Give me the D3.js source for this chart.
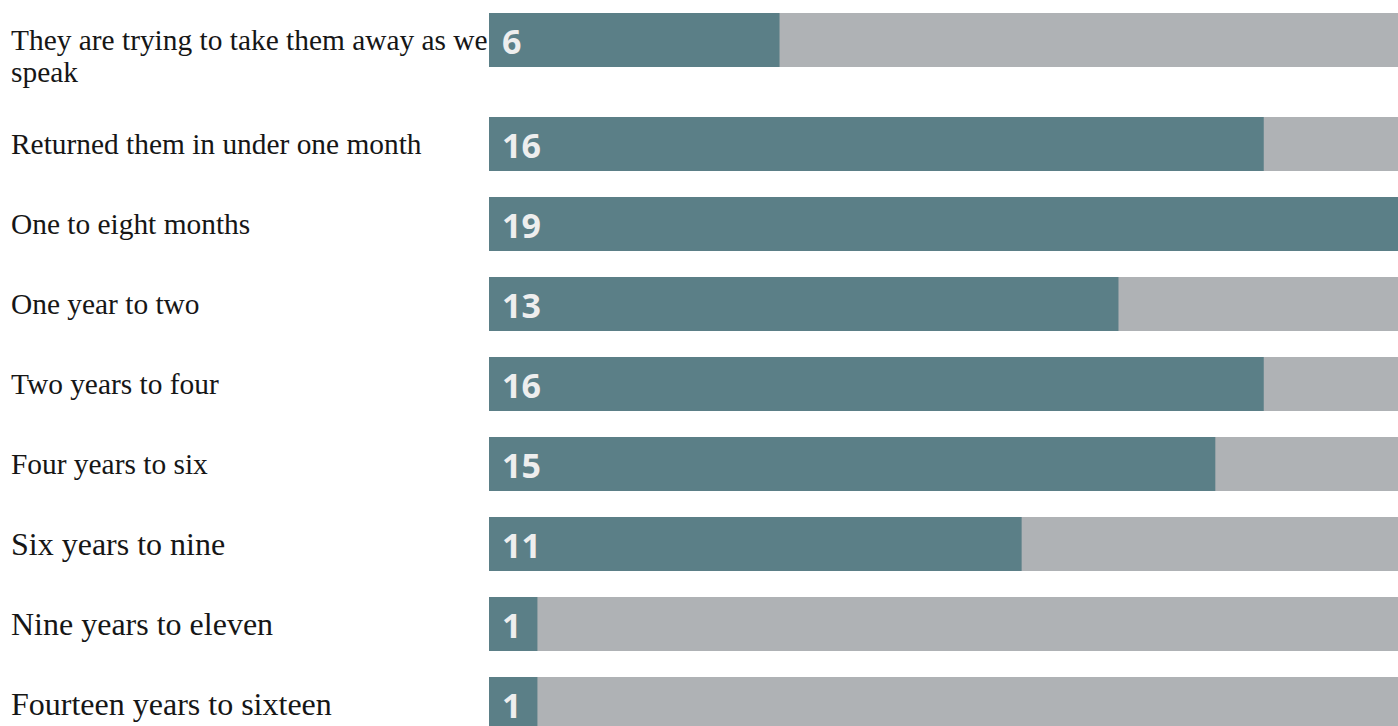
<!DOCTYPE html>
<html>
<head>
<meta charset="utf-8">
<script src="https://cdn.jsdelivr.net/npm/d3@7"></script>
<style>
  body { margin: 0; background: #fff; overflow: hidden; }
  .label { font-family: "Liberation Serif", "Times New Roman", serif; font-size: 29.4px; fill: #161616; }
  .label.big { font-size: 32px; }
  .value { font-family: "Open Sans", sans-serif; font-weight: 700; font-size: 34px; fill: #eeeeee; }
</style>
</head>
<body>
<div id="chart"></div>
<script>
const categories = [
  "They are trying to take them away as we speak",
  "Returned them in under one month",
  "One to eight months",
  "One year to two",
  "Two years to four",
  "Four years to six",
  "Six years to nine",
  "Nine years to eleven",
  "Fourteen years to sixteen",
];
const values = [6, 16, 19, 13, 16, 15, 11, 1, 1];
const maxValue = 19;

const width = 1398;
const height = 726;
const labelX = 11;
const labelWidth = 478;
const barLeft = 489;
const barRight = 1409;
const barHeight = 54;
const rowGap = 26;
const lineHeight = 32;
const extraPerLine = 24;
const firstRowY = 13;
const bigLabelFrom = 6; // last rows use a larger label type

const svg = d3
  .select("#chart")
  .append("svg")
  .attr("width", width)
  .attr("height", height);

const x = d3.scaleLinear().domain([0, maxValue]).range([barLeft, barRight]);

// wrap labels first, rows grow with extra lines
function wrap(text, maxWidth, big) {
  const words = text.split(" ");
  const probe = svg.append("text").attr("class", big ? "label big" : "label");
  const lines = [];
  let line = [];
  words.forEach((w) => {
    line.push(w);
    probe.text(line.join(" "));
    if (probe.node().getComputedTextLength() > maxWidth && line.length > 1) {
      line.pop();
      lines.push(line.join(" "));
      line = [w];
    }
  });
  lines.push(line.join(" "));
  probe.remove();
  return lines;
}

let yPos = firstRowY;
const rows = categories.map((c, i) => {
  const big = i >= bigLabelFrom;
  const lines = wrap(c, labelWidth, big);
  const row = { name: c, value: values[i], lines, big, y: yPos };
  yPos += barHeight + rowGap + (lines.length - 1) * extraPerLine;
  return row;
});

const row = svg
  .selectAll(".row")
  .data(rows)
  .join("g")
  .attr("class", "row")
  .attr("transform", (d) => `translate(0,${d.y})`);

row
  .append("rect")
  .attr("x", x(0))
  .attr("width", x(maxValue) - x(0))
  .attr("height", barHeight)
  .attr("fill", "#afb2b5");

row
  .append("rect")
  .attr("x", x(0))
  .attr("width", (d) => x(d.value) - x(0))
  .attr("height", barHeight)
  .attr("fill", "#5b7f87");

row
  .append("text")
  .attr("class", "value")
  .attr("x", x(0) + 13)
  .attr("y", barHeight / 2)
  .attr("dy", "0.4em")
  .text((d) => d.value);

const label = row
  .append("text")
  .attr("class", (d) => (d.big ? "label big" : "label"))
  .attr("x", labelX)
  .attr("y", barHeight / 2);

label
  .selectAll("tspan")
  .data((d) => d.lines)
  .join("tspan")
  .attr("x", labelX)
  .attr("dy", (d, i) => (i === 0 ? "0.35em" : lineHeight))
  .text((d) => d);
</script>
</body>
</html>
